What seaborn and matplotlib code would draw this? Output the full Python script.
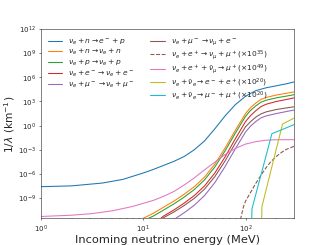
import numpy as np
import pandas as pd
import matplotlib
matplotlib.use("Agg")
import matplotlib.pyplot as plt
import seaborn as sns

# log10 of incoming neutrino energy (MeV) and log10 of 1/lambda (km^-1)
logE_blue = [0.0, 0.3, 0.6, 0.8, 0.9, 1.0, 1.1, 1.2, 1.3, 1.4, 1.5, 1.6, 1.7, 1.8, 1.9, 2.0, 2.1, 2.2, 2.3, 2.4, 2.48]
logY_blue = [-7.6, -7.5, -7.15, -6.7, -6.3, -5.9, -5.45, -4.95, -4.45, -3.85, -3.0, -1.9, -0.4, 1.2, 2.6, 3.65, 4.35, 4.7, 4.95, 5.2, 5.45]

logE_orange = [0.99, 1.1, 1.2, 1.3, 1.4, 1.5, 1.6, 1.7, 1.8, 1.9, 2.0, 2.05, 2.1, 2.15, 2.2, 2.3, 2.4, 2.48]
logY_orange = [-11.6, -10.9, -10.15, -9.4, -8.55, -7.6, -6.4, -4.8, -2.8, -0.6, 1.5, 2.25, 2.8, 3.25, 3.5, 3.8, 4.02, 4.21]

logE_green = [1.04, 1.1, 1.2, 1.3, 1.4, 1.5, 1.6, 1.7, 1.8, 1.9, 2.0, 2.05, 2.1, 2.15, 2.2, 2.3, 2.4, 2.48]
logY_green = [-11.6, -11.25, -10.5, -9.75, -8.9, -7.95, -6.75, -5.15, -3.15, -0.95, 1.15, 1.9, 2.45, 2.9, 3.15, 3.45, 3.67, 3.86]

logE_red = [1.165, 1.2, 1.3, 1.4, 1.5, 1.6, 1.7, 1.8, 1.9, 2.0, 2.05, 2.1, 2.15, 2.2, 2.3, 2.4, 2.48]
logY_red = [-11.6, -11.25, -10.5, -9.65, -8.7, -7.5, -5.9, -3.9, -1.65, 0.5, 1.25, 1.85, 2.35, 2.65, 3.0, 3.25, 3.46]

logE_purple = [1.31, 1.4, 1.5, 1.6, 1.7, 1.8, 1.9, 2.0, 2.05, 2.1, 2.15, 2.2, 2.3, 2.4, 2.48]
logY_purple = [-11.6, -10.85, -9.9, -8.7, -7.1, -5.1, -2.9, -0.8, -0.05, 0.5, 0.95, 1.2, 1.5, 1.75, 1.95]

logE_brown = [1.18, 1.2, 1.3, 1.4, 1.5, 1.6, 1.7, 1.8, 1.9, 2.0, 2.05, 2.1, 2.15, 2.2, 2.3, 2.4, 2.48]
logY_brown = [-11.6, -11.45, -10.75, -9.95, -9.05, -7.9, -6.35, -4.4, -2.2, -0.15, 0.5, 1.05, 1.45, 1.7, 2.0, 2.2, 2.35]

logE_brown_dash = [1.95, 1.98, 2.0, 2.05, 2.1, 2.15, 2.2, 2.25, 2.3, 2.35, 2.4, 2.48]
logY_brown_dash = [-11.7, -10.1, -9.4, -8.3, -7.2, -6.2, -5.25, -4.45, -3.85, -3.35, -2.95, -2.55]

logE_pink = [0.0, 0.3, 0.5, 0.7, 0.9, 1.1, 1.2, 1.3, 1.4, 1.5, 1.6, 1.7, 1.8, 1.9, 2.0, 2.1, 2.2, 2.3, 2.48]
logY_pink = [-11.31, -11.15, -10.95, -10.6, -10.05, -9.3, -8.8, -8.2, -7.4, -6.5, -5.5, -4.55, -3.6, -2.85, -2.3, -2.0, -1.82, -1.76, -1.75]

logE_olive = [2.158, 2.16, 2.362, 2.477]
logY_olive = [-11.7, -10.1, 0.2, 0.94]

logE_cyan = [2.061, 2.063, 2.258, 2.338, 2.477]
logY_cyan = [-11.7, -10.36, -1.0, -0.6, 0.14]

labels = [
    r"$\nu_e + n \rightarrow e^- + p$",
    r"$\nu_e + n \rightarrow \nu_e + n$",
    r"$\nu_e + p \rightarrow \nu_e + p$",
    r"$\nu_e + e^- \rightarrow \nu_e + e^-$",
    r"$\nu_e + \mu^- \rightarrow \nu_e + \mu^-$",
    r"$\nu_e + \mu^- \rightarrow \nu_\mu + e^-$",
    r"$\nu_e + e^+ \rightarrow \nu_\mu + \mu^+ (\times 10^{35})$",
    r"$\nu_e + e^+ + \bar{\nu}_\mu \rightarrow \mu^+ (\times 10^{49})$",
    r"$\nu_e + \bar{\nu}_e \rightarrow e^- + e^+ (\times 10^{20})$",
    r"$\nu_e + \bar{\nu}_e \rightarrow \mu^- + \mu^+ (\times 10^{20})$",
]

series = [
    (logE_blue, logY_blue, "C0", "-"),
    (logE_orange, logY_orange, "C1", "-"),
    (logE_green, logY_green, "C2", "-"),
    (logE_red, logY_red, "C3", "-"),
    (logE_purple, logY_purple, "C4", "-"),
    (logE_brown, logY_brown, "C5", "-"),
    (logE_brown_dash, logY_brown_dash, "C5", "--"),
    (logE_pink, logY_pink, "C6", "-"),
    (logE_olive, logY_olive, "C8", "-"),
    (logE_cyan, logY_cyan, "C9", "-"),
]

sns.set_style("ticks")
plt.rcParams['font.family'] = ['DejaVu Sans']

fig, ax = plt.subplots(figsize=(6.4, 4.8), dpi=51.1)
fig.subplots_adjust(left=0.125, right=0.9, top=0.88, bottom=0.11)

for (lx, ly, c, ls), lab in zip(series, labels):
    df = pd.DataFrame({"E": np.power(10.0, lx), "y": np.power(10.0, ly)})
    sns.lineplot(data=df, x="E", y="y", ax=ax, color=c, linestyle=ls,
                 label=lab, estimator=None, sort=False, linewidth=1.5)

ax.set_xscale("log")
ax.set_yscale("log")
ax.set_xlim(1, 300)
ax.set_ylim(10 ** -11.5, 1e12)
ax.set_yticks([1e-9, 1e-6, 1e-3, 1e0, 1e3, 1e6, 1e9, 1e12])
ax.set_xlabel("Incoming neutrino energy (MeV)", fontsize=16, labelpad=0)
ax.set_ylabel(r"1/$\lambda$ (km$^{-1}$)", fontsize=15, labelpad=1)
ax.legend(loc="upper left", ncol=2, frameon=False, fontsize=10.5,
          labelspacing=0.08, handletextpad=0.8, handlelength=2.0)

fig.savefig("out.png", dpi=51.1)
